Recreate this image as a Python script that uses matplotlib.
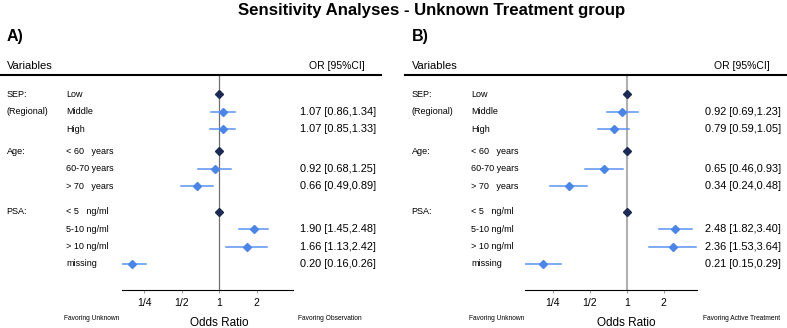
import numpy as np
import matplotlib.pyplot as plt
import matplotlib.transforms as mtransforms

plt.rcParams['font.family'] = ['Liberation Sans', 'DejaVu Sans']

groups = ["SEP:", "(Regional)", "Age:", "PSA:"]
group_rows = [0, 1, 3, 6]
labels = ["Low", "Middle", "High", "< 60   years", "60-70 years", "> 70   years",
          "< 5   ng/ml", "5-10 ng/ml", "> 10 ng/ml", "missing"]
is_ref = [True, False, False, True, False, False, True, False, False, False]

or_a = [1, 1.07, 1.07, 1, 0.92, 0.66, 1, 1.90, 1.66, 0.20]
lo_a = [np.nan, 0.86, 0.85, np.nan, 0.68, 0.49, np.nan, 1.45, 1.13, 0.16]
hi_a = [np.nan, 1.34, 1.33, np.nan, 1.25, 0.89, np.nan, 2.48, 2.42, 0.26]

or_b = [1, 0.92, 0.79, 1, 0.65, 0.34, 1, 2.48, 2.36, 0.21]
lo_b = [np.nan, 0.69, 0.59, np.nan, 0.46, 0.24, np.nan, 1.82, 1.53, 0.15]
hi_b = [np.nan, 1.23, 1.05, np.nan, 0.93, 0.48, np.nan, 3.40, 3.64, 0.29]

ticks = [0.25, 0.5, 1, 2]
tick_labels = ["1/4", "1/2", "1", "2"]

# row positions (rows from top, with a gap between groups)
ypos = [1.1, 2.1, 3.1, 4.35, 5.35, 6.35, 7.8, 8.8, 9.8, 10.8]

W, H = 787, 328
fig = plt.figure(figsize=(W / 100, H / 100), dpi=100)

fig.text(432 / W, 1 - 10.5 / H, "Sensitivity Analyses - Unknown Treatment group",
         ha='center', va='center', fontsize=12.1, fontweight='bold')

panels = [
    dict(tag="A)", x0=0, ax_l=121.7, ax_r=292.7, xlim=(0.165, 3.88),
         est=or_a, lo=lo_a, hi=hi_a, right="Favoring Observation",
         ref_c='#707070', ref_lw=0.9, hdr=(0, 381)),
    dict(tag="B)", x0=405, ax_l=525, ax_r=696.7, xlim=(0.149, 3.71),
         est=or_b, lo=lo_b, hi=hi_b, right="Favoring Active Treatment",
         ref_c='#b0b0b0', ref_lw=1.5, hdr=(405, 787)),
]

top_px, bot_px = 75, 290

for p in panels:
    ax = fig.add_axes([p['ax_l'] / W, 1 - bot_px / H,
                       (p['ax_r'] - p['ax_l']) / W, (bot_px - top_px) / H])
    ax.set_xscale('log', base=2)
    ax.set_xlim(*p['xlim'])
    ax.set_ylim((bot_px - top_px) / 17.5, 0)
    for s in ['top', 'right', 'left']:
        ax.spines[s].set_visible(False)
    ax.spines['bottom'].set_linewidth(0.8)
    ax.set_yticks([])
    ax.set_xticks(ticks)
    ax.set_xticklabels(tick_labels, fontsize=7.5)
    ax.minorticks_off()
    ax.tick_params(axis='x', length=2.5, width=0.6, color='#888888', pad=3)
    ax.axvline(1, color=p['ref_c'], lw=p['ref_lw'], zorder=1)

    for i in range(len(labels)):
        if is_ref[i]:
            ax.plot(p['est'][i], ypos[i], marker='D', ms=4.5, color='#1c2b55',
                    zorder=3)
        else:
            ax.plot([p['lo'][i], p['hi'][i]], [ypos[i], ypos[i]],
                    color='#5b92f2', lw=1.1, zorder=2)
            ax.plot(p['est'][i], ypos[i], marker='D', ms=4.5, color='#4a86e8',
                    zorder=3)

    tr = mtransforms.blended_transform_factory(fig.transFigure, ax.transData)
    x0 = p['x0']
    gx = (x0 + 6.5) / W if x0 == 0 else (x0 + 6.7) / W
    lx = (x0 + 66) / W
    ox = (x0 + 300) / W
    for g, r in zip(groups, group_rows):
        fig.text(gx, ypos[r], g, transform=tr, fontsize=6.5, va='center')
    for i, lab in enumerate(labels):
        fig.text(lx, ypos[i], lab, transform=tr, fontsize=6.5, va='center')
        if not is_ref[i]:
            s = "%.2f [%.2f,%.2f]" % (p['est'][i], p['lo'][i], p['hi'][i])
            fig.text(ox, ypos[i], s, transform=tr, fontsize=7.9, va='center')

    fig.text((x0 + 7) / W, 1 - 37 / H, p['tag'], fontsize=11.5,
             fontweight='bold', va='center')
    fig.text((x0 + 7) / W, 1 - 66 / H, "Variables", fontsize=8, va='center')
    fig.text((x0 + 365) / W, 1 - 66 / H, "OR [95%CI]", fontsize=7.5,
             va='center', ha='right')
    fig.add_artist(plt.Line2D([p['hdr'][0] / W, p['hdr'][1] / W],
                              [1 - 75 / H, 1 - 75 / H], color='black', lw=1.5,
                              transform=fig.transFigure))

    cx = ax.transData.transform((1, 0))[0] / fig.bbox.width
    fig.text(cx, 1 - 323 / H, "Odds Ratio", fontsize=8.5, ha='center',
             va='center')
    fig.text((x0 + 64) / W, 1 - 318 / H, "Favoring Unknown", fontsize=4.8,
             va='center')
    fig.text((x0 + 298) / W, 1 - 318 / H, p['right'], fontsize=4.8,
             va='center')

fig.savefig('out.png', dpi=100)
